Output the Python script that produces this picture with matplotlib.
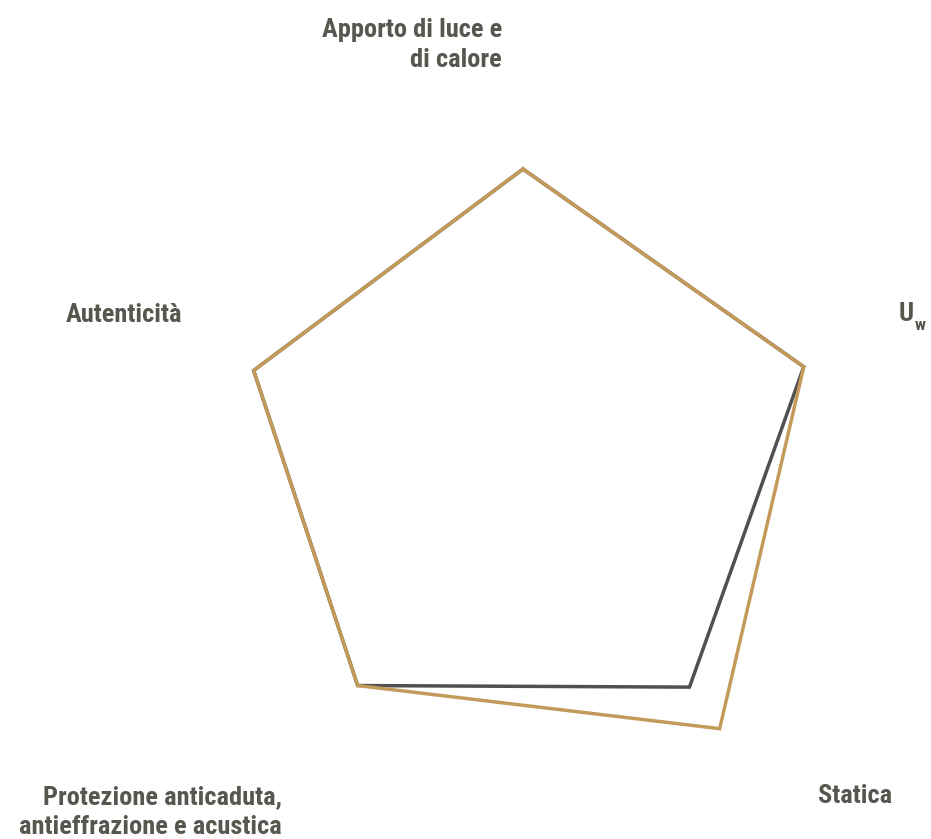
import matplotlib
matplotlib.use("Agg")
import matplotlib.pyplot as plt
import numpy as np

# axes of the radar, clockwise from the top
categories = [
    "Apporto di luce e\ndi calore",
    "Uw",
    "Statica",
    "Protezione anticaduta,\nantieffrazione e acustica",
    "Autenticità",
]
values_gray = [6.02, 6.15, 5.9, 5.86, 5.9]
values_gold = [6.02, 6.15, 6.97, 5.86, 5.9]
r_max = 7.0

gold = "#c49a5b"
gray = "#505050"
text_color = "#57564f"

W, H = 931, 839
plt.rcParams["font.family"] = ["Roboto Condensed", "Liberation Sans Narrow", "DejaVu Sans"]

fig = plt.figure(figsize=(W / 100, H / 100), dpi=100)
cx, cy, rad = 523, 458, 336  # pixel centre and radius of r_max
ax = fig.add_axes(
    [(cx - rad) / W, (H - cy - rad) / H, 2 * rad / W, 2 * rad / H],
    projection="polar",
)
ax.set_theta_zero_location("N")
ax.set_theta_direction(-1)

theta = np.deg2rad(np.arange(len(categories)) * 360 / len(categories))
closed = np.append(theta, theta[0])
for vals, color in [(values_gray, gray), (values_gold, gold)]:
    ax.plot(closed, np.append(vals, vals[0]), color=color, lw=2.5,
            solid_joinstyle="miter", clip_on=False)

ax.set_ylim(0, r_max)
ax.set_xticks([])
ax.set_yticks([])
ax.grid(False)
ax.spines["polar"].set_visible(False)
ax.patch.set_visible(False)


def label(x, y, s, ha, size=19):
    fig.text(x / W, 1 - y / H, s, ha=ha, va="center", color=text_color,
             fontsize=size, fontweight="bold", linespacing=1.3)


label(502, 45, categories[0], "right")
label(899, 314, "U", "left")
fig.text(915 / W, 1 - 325 / H, "w", ha="left", va="center", color=text_color,
         fontsize=12.5, fontweight="bold")
label(818, 796, categories[2], "left")
label(282, 812, categories[3], "right")
label(182, 315, categories[4], "right")

fig.savefig("out.png", dpi=100)
